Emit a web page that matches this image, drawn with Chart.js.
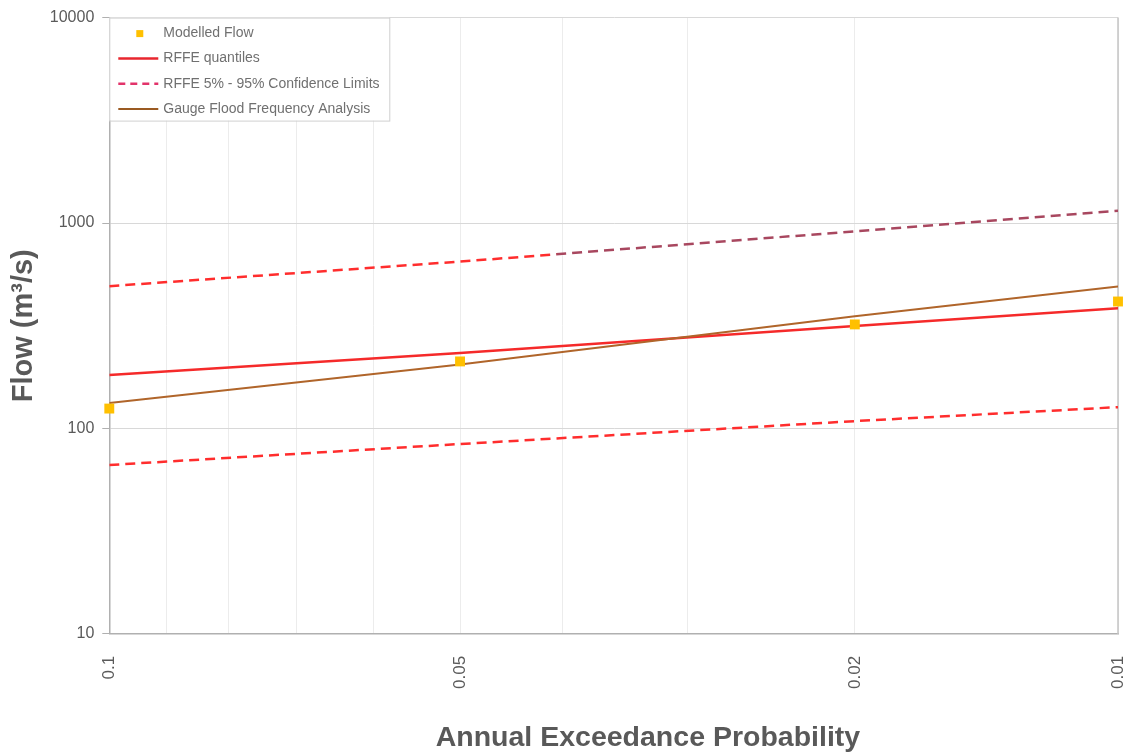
<!DOCTYPE html>
<html>
<head>
<meta charset="utf-8">
<script src="https://cdn.jsdelivr.net/npm/chart.js@4.4.1/dist/chart.umd.min.js"></script>
<style>
  html, body { margin: 0; padding: 0; background: #ffffff; }
  #wrap { width: 1130px; height: 753px; position: relative; }
</style>
</head>
<body>
<div id="wrap"><canvas id="c"></canvas></div>
<script>
// ---------- data ----------
const aep = [0.1, 0.05, 0.02, 0.01];
const modelledFlow = [125, 212, 321, 415];
const rffeQuantiles = [182, 233, 315, 385];
const rffeLower = [66.4, 84, 108.6, 127];
const rffeUpper = [493, 649, 911, 1148];
const gaugeFFA = [133, 205, 352, 491];

const xTickValues = [0.1, 0.09, 0.08, 0.07, 0.06, 0.05, 0.04, 0.03, 0.02, 0.01];
const xTickLabels = ['0.1', '', '', '', '', '0.05', '', '', '0.02', '0.01'];
const yTickValues = [10, 100, 1000, 10000];
const yTickLabels = ['10', '100', '1000', '10000'];
const xTitle = 'Annual Exceedance Probability';
const yTitle = 'Flow (m³/s)';

// ---------- normal probability scale ----------
function normInv(p) {
  const a = [-3.969683028665376e+01, 2.209460984245205e+02, -2.759285104469687e+02, 1.383577518672690e+02, -3.066479806614716e+01, 2.506628277459239e+00];
  const b = [-5.447609879822406e+01, 1.615858368580409e+02, -1.556989798598866e+02, 6.680131188771972e+01, -1.328068155288572e+01];
  const c = [-7.784894002430293e-03, -3.223964580411365e-01, -2.400758277161838e+00, -2.549732539343734e+00, 4.374664141464968e+00, 2.938163982698783e+00];
  const d = [7.784695709041462e-03, 3.224671290700398e-01, 2.445134137142996e+00, 3.754408661907416e+00];
  const pl = 0.02425, ph = 1 - pl;
  let q, r;
  if (p < pl) {
    q = Math.sqrt(-2 * Math.log(p));
    return (((((c[0]*q+c[1])*q+c[2])*q+c[3])*q+c[4])*q+c[5]) / ((((d[0]*q+d[1])*q+d[2])*q+d[3])*q+1);
  } else if (p <= ph) {
    q = p - 0.5; r = q*q;
    return (((((a[0]*r+a[1])*r+a[2])*r+a[3])*r+a[4])*r+a[5])*q / (((((b[0]*r+b[1])*r+b[2])*r+b[3])*r+b[4])*r+1);
  } else {
    q = Math.sqrt(-2 * Math.log(1 - p));
    return -(((((c[0]*q+c[1])*q+c[2])*q+c[3])*q+c[4])*q+c[5]) / ((((d[0]*q+d[1])*q+d[2])*q+d[3])*q+1);
  }
}
const zq = p => -normInv(p);

class ProbabilityScale extends Chart.Scale {
  determineDataLimits() {
    this.min = this.options.min;
    this.max = this.options.max;
  }
  buildTicks() {
    return xTickValues.map(v => ({ value: v }));
  }
  getLabelForValue(v) { return String(v); }
  configure() {
    super.configure();
    this._zmin = zq(this.min);
    this._zmax = zq(this.max);
  }
  getPixelForValue(v) {
    return this.getPixelForDecimal((zq(v) - this._zmin) / (this._zmax - this._zmin));
  }
  getPixelForTick(i) {
    const t = this.ticks[i];
    return t ? this.getPixelForValue(t.value) : NaN;
  }
  getValueForPixel(px) {
    const z = this._zmin + this.getDecimalForPixel(px) * (this._zmax - this._zmin);
    let lo = 1e-6, hi = 0.5;
    for (let k = 0; k < 60; k++) { const m = (lo + hi) / 2; if (zq(m) > z) lo = m; else hi = m; }
    return (lo + hi) / 2;
  }
}
ProbabilityScale.id = 'probability';
ProbabilityScale.defaults = {};
Chart.register(ProbabilityScale);

const pts = arr => aep.map((p, i) => ({ x: p, y: arr[i] }));

const FONT = '"Liberation Sans", Arial, Helvetica, sans-serif';

// upper limit: red on the left part, darker mauve tone towards the right (as in the reference)
function upperColor(ctx) {
  const chart = ctx.chart;
  const a = chart.chartArea;
  if (!a) return '#ff2d2d';
  const g = chart.ctx.createLinearGradient(a.left, 0, a.right, 0);
  g.addColorStop(0, '#ff2d2d');
  g.addColorStop(0.435, '#ff2d2d');
  g.addColorStop(0.445, '#a8475f');
  g.addColorStop(1, '#a8475f');
  return g;
}

// ---------- legend, frame & x-title plugin ----------
const legendItems = [
  { label: 'Modelled Flow', kind: 'marker', color: '#ffc000' },
  { label: 'RFFE quantiles', kind: 'line', color: '#e8262e', dash: [], width: 2.5 },
  { label: 'RFFE 5% - 95% Confidence Limits', kind: 'line', color: '#e2336a', dash: [7, 5], width: 2.5 },
  { label: 'Gauge Flood Frequency Analysis', kind: 'line', color: '#9a5a22', dash: [], width: 2 }
];

const framePlugin = {
  id: 'frame',
  beforeDatasetsDraw(chart) {
    const { ctx, chartArea: a } = chart;
    ctx.save();
    ctx.strokeStyle = '#c4c4c4';
    ctx.lineWidth = 1.5;
    ctx.beginPath();
    ctx.moveTo(a.right, a.top);
    ctx.lineTo(a.right, a.bottom);
    ctx.stroke();
    ctx.restore();
  },
  afterDraw(chart) {
    const { ctx, chartArea: a } = chart;
    ctx.save();
    // legend box
    const x0 = a.left, y0 = a.top, w = 280, h = 103;
    ctx.fillStyle = '#ffffff';
    ctx.fillRect(x0, y0, w, h);
    ctx.strokeStyle = '#d0d0d0';
    ctx.lineWidth = 1;
    ctx.strokeRect(x0 + 0.5, y0 + 0.5, w, h);
    ctx.font = '14px ' + FONT;
    ctx.textBaseline = 'middle';
    legendItems.forEach((it, i) => {
      const y = y0 + 15.5 + i * 25.3;
      if (it.kind === 'marker') {
        ctx.fillStyle = it.color;
        ctx.fillRect(x0 + 27, y - 3, 7, 7);
      } else {
        ctx.strokeStyle = it.color;
        ctx.lineWidth = it.width;
        ctx.setLineDash(it.dash);
        ctx.beginPath();
        ctx.moveTo(x0 + 9, y);
        ctx.lineTo(x0 + 49, y);
        ctx.stroke();
        ctx.setLineDash([]);
      }
      ctx.fillStyle = '#707070';
      ctx.textAlign = 'left';
      ctx.fillText(it.label, x0 + 54, y);
    });
    // x-axis title
    ctx.font = 'bold 28.5px ' + FONT;
    ctx.fillStyle = '#595959';
    ctx.textAlign = 'center';
    ctx.textBaseline = 'middle';
    ctx.fillText(xTitle, a.left + (a.right - a.left) * 0.534, 738);
    ctx.restore();
  }
};

new Chart(document.getElementById('c'), {
  type: 'line',
  data: {
    datasets: [
      {
        label: 'Modelled Flow',
        data: pts(modelledFlow),
        showLine: false,
        pointStyle: 'rect',
        pointRadius: 7,
        pointBackgroundColor: '#ffc000',
        pointBorderColor: '#ffc000',
        pointBorderWidth: 0,
        clip: false,
        order: 0
      },
      {
        label: 'RFFE quantiles',
        data: pts(rffeQuantiles),
        borderColor: '#f52a2a',
        borderWidth: 2.5,
        pointRadius: 0,
        tension: 0,
        order: 2
      },
      {
        label: 'RFFE 5% Confidence Limit',
        data: pts(rffeLower),
        borderColor: '#ff2d2d',
        borderWidth: 2.5,
        borderDash: [10, 6],
        pointRadius: 0,
        tension: 0,
        order: 3
      },
      {
        label: 'RFFE 95% Confidence Limit',
        data: pts(rffeUpper),
        borderColor: upperColor,
        borderWidth: 2.5,
        borderDash: [10, 6],
        pointRadius: 0,
        tension: 0,
        order: 3
      },
      {
        label: 'Gauge Flood Frequency Analysis',
        data: pts(gaugeFFA),
        borderColor: '#b0652a',
        borderWidth: 2,
        pointRadius: 0,
        tension: 0,
        order: 1
      }
    ]
  },
  options: {
    responsive: true,
    maintainAspectRatio: false,
    animation: false,
    layout: { padding: { left: 3, right: 12, top: -1, bottom: 42 } },
    plugins: {
      legend: { display: false },
      tooltip: { enabled: false }
    },
    scales: {
      x: {
        type: 'probability',
        min: 0.1,
        max: 0.01,
        afterFit: (scale) => { scale.paddingLeft = 0; scale.paddingRight = 0; },
        grid: { color: '#ececec', lineWidth: 1, drawTicks: false },
        border: { color: '#b0b0b0', width: 1.5 },
        ticks: {
          autoSkip: false,
          minRotation: 90,
          maxRotation: 90,
          padding: 22,
          color: '#5a5a5a',
          font: { family: FONT, size: 17 },
          callback: (v, i) => xTickLabels[i]
        },
        title: { display: false }
      },
      y: {
        type: 'logarithmic',
        min: 10,
        max: 10000,
        afterBuildTicks: (scale) => { scale.ticks = yTickValues.map(v => ({ value: v })); },
        grid: { color: '#d8d8d8', lineWidth: 1, tickLength: 7, tickColor: '#b0b0b0' },
        border: { color: '#b0b0b0', width: 1.5 },
        ticks: {
          color: '#5a5a5a',
          padding: 8,
          font: { family: FONT, size: 16 },
          callback: (v, i) => yTickLabels[i]
        },
        title: {
          display: true,
          text: yTitle,
          color: '#595959',
          font: { family: FONT, size: 29, weight: 'bold' },
          padding: { top: 4, bottom: 0 }
        }
      }
    }
  },
  plugins: [framePlugin]
});
</script>
</body>
</html>
